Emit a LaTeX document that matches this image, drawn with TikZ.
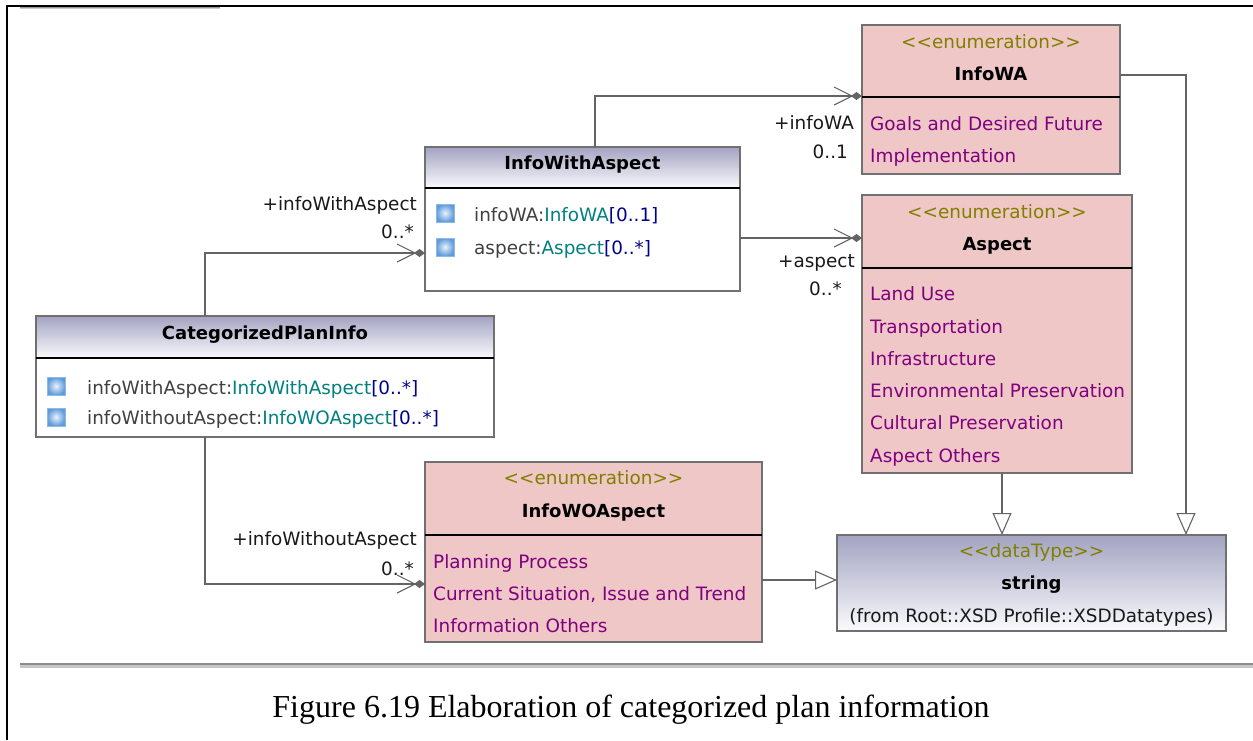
\documentclass[tikz,border=0pt]{standalone}
\usepackage{fontspec}
\setmainfont{DejaVu Sans}
\newfontfamily\capfont{Liberation Serif}
\usetikzlibrary{arrows.meta,calc}
\definecolor{enumfill}{RGB}{239,199,199}
\definecolor{boxgray}{RGB}{112,112,112}
\definecolor{conngray}{RGB}{100,100,100}
\definecolor{stereoolive}{RGB}{128,128,0}
\definecolor{litpurple}{RGB}{128,0,128}
\definecolor{attrgray}{RGB}{64,64,64}
\definecolor{typeteal}{RGB}{0,128,128}
\definecolor{multnavy}{RGB}{0,0,140}
\definecolor{hdtop}{RGB}{163,163,194}
\definecolor{hdbot}{RGB}{250,250,253}
\definecolor{iconblue}{RGB}{95,155,218}
\definecolor{iconin}{RGB}{235,243,252}
\definecolor{iconedge}{RGB}{140,185,230}
\definecolor{lblblack}{RGB}{25,25,25}
\newcommand\assocend[1]{%
  \draw[conn, line join=miter] ($(#1)+(-28,-9)$) -- ($(#1)+(-10,0)$) -- ($(#1)+(-28,9)$);
  \fill[conngray] (#1) -- ++(-5.5,-4) -- ++(-5.5,4) -- ++(5.5,4) -- cycle;}
\newcommand\attr[3]{\textcolor{attrgray}{#1:}\textcolor{typeteal}{#2}\textcolor{multnavy}{#3}}
\tikzset{
  boxline/.style={draw=boxgray, line width=1.3pt},
  nw/.style={inner sep=0pt, outer sep=0pt, anchor=north west},
  txt/.style={inner sep=0pt, font=\fontsize{18.4}{22}\selectfont},
  lit/.style={txt, text=litpurple, anchor=base west},
  attrtxt/.style={txt, anchor=base west},
  stereo/.style={txt, text=stereoolive, anchor=base},
  ttl/.style={inner sep=0pt, font=\fontsize{18}{21}\selectfont\bfseries, anchor=base},
  lbl/.style={txt, text=lblblack, anchor=base east},
  conn/.style={draw=conngray, line width=1.1pt},
  gen/.style={conn, -{Triangle[open, length=22pt, width=19pt]}},
  sepline/.style={draw=black, line width=1.3pt},
  icon/.style={minimum size=18pt, inner sep=0pt, draw=iconedge, line width=0.8pt, inner color=iconin, outer color=iconblue}
}
\begin{document}
\begin{tikzpicture}[x=1pt,y=-1pt]
\useasboundingbox (0,0) rectangle (1253,740);
\fill[white] (0,0) rectangle (1253,740);
% frame
\draw[black, line width=2pt] (7,740) -- (7,5.5) -- (1253,5.5);
\draw[gray!80, line width=1.2pt] (20,7.5) -- (220,7.5);
\draw[gray!40, line width=1.2pt] (20,8.8) -- (220,8.8);
\draw[gray!90, line width=1.6pt] (20,664) -- (1253,664);
\draw[gray!45, line width=2.4pt] (20,666.5) -- (1253,666.5);

% InfoWithAspect
\node[nw, boxline, top color=hdtop, bottom color=hdbot, minimum width=315pt, minimum height=41pt] (iwah) at (425,147) {};
\node[nw, boxline, minimum width=315pt, minimum height=144pt] (iwa) at (425,147) {};
\draw[sepline] (iwah.south west) -- (iwah.south east);
\node[ttl] (iwat) at (582.5,169.5) {InfoWithAspect};
\node[icon] (iwai1) at (445,213) {};
\node[icon] (iwai2) at (445,247) {};
\node[attrtxt] (iwaa1) at (474,221) {\attr{infoWA}{InfoWA}{[0..1]}};
\node[attrtxt] (iwaa2) at (474,254) {\attr{aspect}{Aspect}{[0..*]}};

% CategorizedPlanInfo
\node[nw, boxline, top color=hdtop, bottom color=hdbot, minimum width=458pt, minimum height=42pt] (cpih) at (36,316) {};
\node[nw, boxline, minimum width=458pt, minimum height=121pt] (cpi) at (36,316) {};
\draw[sepline] (cpih.south west) -- (cpih.south east);
\node[ttl] (cpit) at (265,339.5) {CategorizedPlanInfo};
\node[icon] (cpii1) at (56,386) {};
\node[icon] (cpii2) at (56,417) {};
\node[attrtxt] (cpia1) at (87,394) {\attr{infoWithAspect}{InfoWithAspect}{[0..*]}};
\node[attrtxt] (cpia2) at (87,424) {\attr{infoWithoutAspect}{InfoWOAspect}{[0..*]}};

% InfoWA
\node[nw, boxline, fill=enumfill, minimum width=258pt, minimum height=149pt] (infowa) at (862,25) {};
\draw[sepline] (862,97) -- (1120,97);
\node[stereo] (infowas) at (991,48) {<{}<enumeration>{}>};
\node[ttl] (infowat) at (991,80) {InfoWA};
\node[lit] (infowal1) at (870,130) {Goals and Desired Future};
\node[lit] (infowal2) at (870,162) {Implementation};

% Aspect
\node[nw, boxline, fill=enumfill, minimum width=270pt, minimum height=278pt] (aspect) at (862,195) {};
\draw[sepline] (862,268) -- (1132,268);
\node[stereo] (aspects) at (997,218) {<{}<enumeration>{}>};
\node[ttl] (aspectt) at (997,250) {Aspect};
\node[lit] (al1) at (870,300) {Land Use};
\node[lit] (al2) at (870,333) {Transportation};
\node[lit] (al3) at (870,365) {Infrastructure};
\node[lit] (al4) at (870,397) {Environmental Preservation};
\node[lit] (al5) at (870,429) {Cultural Preservation};
\node[lit] (al6) at (870,462) {Aspect Others};

% InfoWOAspect
\node[nw, boxline, fill=enumfill, minimum width=337pt, minimum height=180pt] (iwo) at (425,462) {};
\draw[sepline] (425,535) -- (762,535);
\node[stereo] (iwos) at (593.5,484) {<{}<enumeration>{}>};
\node[ttl] (iwot) at (593.5,517) {InfoWOAspect};
\node[lit] (iwol1) at (433,568) {Planning Process};
\node[lit] (iwol2) at (433,600) {Current Situation, Issue and Trend};
\node[lit] (iwol3) at (433,632) {Information Others};

% string
\node[nw, boxline, top color=hdtop, bottom color=hdbot, minimum width=389pt, minimum height=96pt] (str) at (837,535) {};
\node[stereo] (strs) at (1031.5,557) {<{}<dataType>{}>};
\node[ttl] (strt) at (1031.5,589) {string};
\node[txt, anchor=base, text=lblblack] (strf) at (1031.5,622) {(from Root::XSD Profile::XSDDatatypes)};

% associations
\coordinate (j1) at (205,253);
\coordinate (e1) at (j1 -| iwa.west);
\draw[conn] (cpi.north -| j1) -- (j1) -- (e1);
\assocend{e1}
\coordinate (j2) at (595,96);
\coordinate (e2) at (j2 -| infowa.west);
\draw[conn] (iwa.north -| j2) -- (j2) -- (e2);
\assocend{e2}
\coordinate (j3) at (800,238);
\coordinate (e3) at (j3 -| aspect.west);
\draw[conn] (j3 -| iwa.east) -- (e3);
\assocend{e3}
\coordinate (j4) at (205,584);
\coordinate (e4) at (j4 -| iwo.west);
\draw[conn] (cpi.south -| j4) -- (j4) -- (e4);
\assocend{e4}

% generalizations
\coordinate (g1) at (1186,75);
\draw[gen] (g1 -| infowa.east) -- (g1) -- (g1 |- str.north);
\coordinate (g2) at (1002,500);
\draw[gen] (g2 |- aspect.south) -- (g2 |- str.north);
\coordinate (g3) at (800,580);
\draw[gen] (g3 -| iwo.east) -- (g3 -| str.west);

% role labels
\node[lbl] (l1) at (417,210) {+infoWithAspect};
\node[lbl] (l2) at (414,238) {0..*};
\node[lbl] (l3) at (854,129) {+infoWA};
\node[lbl] (l4) at (848,158) {0..1};
\node[lbl] (l5) at (855,267) {+aspect};
\node[lbl] (l6) at (842,295) {0..*};
\node[lbl] (l7) at (417,545) {+infoWithoutAspect};
\node[lbl] (l8) at (414,575) {0..*};

% caption
\node[inner sep=0pt, anchor=base, font=\capfont\fontsize{32}{36}\selectfont] (cap) at (631,717) {Figure 6.19 Elaboration of categorized plan information};
\end{tikzpicture}
\end{document}
